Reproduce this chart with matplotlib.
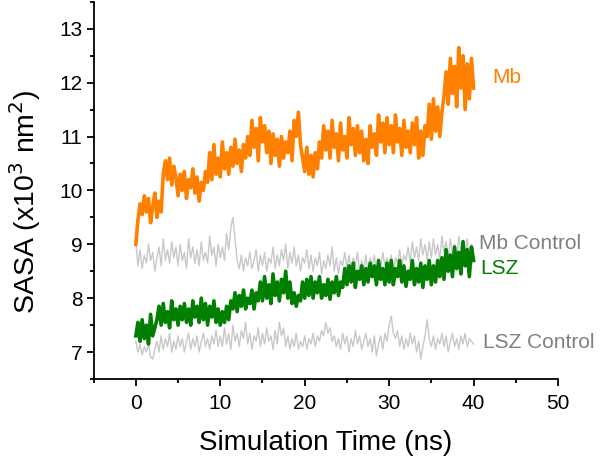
import matplotlib
matplotlib.use("Agg")
import matplotlib.pyplot as plt
import numpy as np
from matplotlib.ticker import MultipleLocator

plt.rcParams['font.family'] = ['Liberation Sans', 'DejaVu Sans']

# время, нс (шаг 0.25)
time_ns = np.linspace(0, 40, 161)

mb = [
    9.0, 9.45, 9.75, 9.55, 9.9, 9.6, 9.85, 9.4, 9.7, 9.95, 9.5, 9.8, 9.6, 10.3, 10.55, 10.2, 10.6, 10.1, 10.45, 10.25,
    9.9, 10.3, 10.0, 10.35, 9.85, 10.2, 10.05, 10.4, 9.95, 10.25, 9.8, 10.15, 10.0, 10.35, 10.15, 10.7, 10.2, 10.85, 10.3, 10.6,
    10.25, 10.9, 10.4, 10.7, 10.3, 10.8, 10.45, 10.95, 10.5, 10.75, 10.35, 10.85, 10.6, 11.0, 10.65, 11.3, 10.8, 11.15, 10.55, 11.35,
    10.9, 11.2, 10.7, 11.1, 10.5, 11.05, 10.65, 10.95, 10.45, 11.0, 10.6, 10.9, 10.7, 11.1, 10.55, 11.3, 11.0, 11.45, 10.85, 10.6,
    10.35, 10.8, 10.3, 10.65, 10.25, 10.7, 10.4, 10.9, 10.6, 11.2, 10.75, 11.1, 10.6, 11.3, 10.8, 11.05, 10.55, 11.25, 10.75, 11.0,
    10.6, 11.35, 10.85, 11.15, 10.65, 11.2, 10.7, 11.1, 10.55, 10.95, 10.5, 11.2, 10.8, 11.05, 10.65, 11.4, 10.9, 11.25, 10.7, 11.35,
    10.85, 11.2, 10.7, 11.4, 10.9, 11.15, 10.65, 11.3, 10.8, 11.1, 10.7, 11.25, 10.85, 11.35, 10.6, 11.1, 10.65, 11.2, 11.0, 11.6,
    10.95, 11.7, 11.1, 11.55, 11.0, 11.45, 11.75, 12.2, 11.6, 12.45, 11.8, 12.3, 11.55, 12.65, 11.9, 12.5, 11.5, 12.35, 11.7, 12.45,
    11.9,
]

mb_control = [
    9.05, 8.6, 8.9, 8.55, 8.8, 8.65, 9.0, 8.7, 8.85, 8.5, 8.75, 8.95, 8.6, 9.1, 8.7, 8.9, 8.65, 9.05, 8.75, 8.95,
    8.6, 9.0, 8.7, 8.85, 8.55, 9.1, 8.75, 8.95, 8.65, 8.9, 8.6, 9.05, 8.7, 8.85, 8.65, 9.15, 8.8, 8.95, 8.6, 9.0,
    8.75, 8.95, 8.7, 9.2, 8.9, 9.3, 9.5, 9.1, 8.7, 8.55, 8.8, 8.5, 8.75, 8.6, 8.85, 8.55, 8.7, 8.9, 8.5, 8.8,
    8.6, 8.85, 8.5, 8.75, 8.65, 8.95, 8.55, 8.8, 8.6, 8.9, 8.7, 9.0, 8.55, 8.85, 8.65, 8.95, 8.6, 8.8, 8.5, 8.75,
    8.65, 8.9, 8.55, 8.8, 8.5, 8.75, 8.6, 8.85, 8.45, 8.7, 8.55, 8.8, 8.6, 8.95, 8.5, 8.75, 8.45, 8.7, 8.6, 8.85,
    8.55, 8.8, 8.5, 8.75, 8.6, 8.85, 8.5, 8.7, 8.55, 8.8, 8.45, 8.75, 8.6, 8.8, 8.5, 8.7, 8.55, 8.85, 8.6, 8.75,
    8.55, 8.8, 8.5, 8.75, 8.65, 8.9, 8.6, 8.8, 8.7, 8.95, 8.65, 9.05, 8.75, 8.95, 8.7, 9.1, 8.8, 9.0, 8.7, 9.05,
    8.75, 9.1, 8.8, 9.0, 8.7, 9.15, 8.85, 9.05, 8.75, 9.1, 8.8, 9.0, 8.7, 9.15, 8.85, 9.05, 8.8, 9.1, 8.75, 9.0,
    8.9,
]

lsz = [
    7.3, 7.55, 7.2, 7.6, 7.25, 7.5, 7.15, 7.7, 7.3, 7.45, 7.6, 7.85, 7.5, 7.9, 7.55, 7.75, 7.45, 7.95, 7.6, 7.8,
    7.5, 7.85, 7.6, 7.9, 7.55, 7.8, 7.5, 7.95, 7.65, 7.85, 7.55, 8.0, 7.6, 7.9, 7.5, 7.85, 7.65, 7.95, 7.55, 7.8,
    7.5, 7.75, 7.55, 7.85, 7.6, 7.95, 7.8, 8.1, 7.75, 8.05, 7.85, 8.15, 7.8, 8.0, 7.9, 8.15, 7.8, 8.1, 7.95, 8.3,
    7.95, 8.4, 8.0, 8.25, 7.9, 8.45, 8.05, 8.3, 7.95, 8.35, 8.1, 8.5, 8.0, 8.3, 7.9, 8.1, 7.85, 8.05, 7.95, 8.3,
    8.0, 8.35, 8.05, 8.4, 8.0, 8.3, 8.1, 8.4, 8.0, 8.25, 8.05, 8.35, 7.98, 8.3, 8.1, 8.4, 8.05, 8.3, 8.2, 8.55,
    8.25, 8.6, 8.3, 8.65, 8.2, 8.5, 8.35, 8.6, 8.25, 8.55, 8.3, 8.65, 8.4, 8.6, 8.25, 8.7, 8.35, 8.55, 8.25, 8.65,
    8.3, 8.7, 8.25, 8.55, 8.4, 8.7, 8.3, 8.6, 8.22, 8.5, 8.35, 8.7, 8.25, 8.55, 8.3, 8.65, 8.2, 8.6, 8.35, 8.7,
    8.25, 8.6, 8.3, 8.7, 8.4, 8.75, 8.35, 8.9, 8.5, 8.8, 8.4, 8.95, 8.55, 8.85, 8.45, 9.05, 8.6, 8.9, 8.4, 8.95,
    8.7,
]

lsz_control = [
    7.2, 7.0, 7.15, 6.95, 7.1, 7.0, 7.15, 6.9, 6.87, 7.05, 7.2, 7.0, 7.3, 7.05, 7.25, 7.1, 7.35, 7.0, 7.2, 7.05,
    7.3, 7.1, 7.25, 7.0, 7.2, 7.35, 7.05, 7.25, 7.1, 7.3, 7.0, 7.2, 7.35, 7.1, 7.25, 7.05, 7.3, 7.15, 7.4, 7.1,
    7.3, 7.1, 7.45, 7.15, 7.35, 7.05, 7.5, 7.2, 7.35, 7.1, 7.4, 7.25, 7.55, 7.15, 7.35, 7.05, 7.3, 7.2, 7.45, 7.1,
    7.35, 7.15, 7.45, 7.2, 7.3, 7.05, 7.4, 7.15, 7.55, 7.3, 7.45, 7.1, 7.3, 7.05, 7.25, 7.1, 7.35, 7.05, 7.2, 7.1,
    7.3, 7.05, 7.25, 7.15, 7.35, 7.1, 7.3, 7.2, 7.4, 7.3, 7.55, 7.35, 7.45, 7.2, 7.3, 7.1, 7.25, 7.05, 7.35, 7.15,
    7.3, 7.0, 7.25, 7.1, 7.4, 7.15, 7.3, 7.05, 7.2, 7.35, 7.1, 7.25, 7.0, 7.3, 6.93, 7.15, 7.3, 7.05, 7.35, 7.2,
    7.5, 7.67, 7.35, 7.25, 7.4, 7.1, 7.3, 7.05, 7.25, 7.1, 7.35, 7.15, 7.3, 7.0, 7.2, 6.87, 7.1, 7.3, 7.6, 7.25,
    7.1, 7.3, 7.05, 7.25, 7.15, 7.35, 7.1, 7.3, 7.0, 7.2, 7.35, 7.1, 7.25, 7.05, 7.3, 7.15, 7.35, 7.1, 7.25, 7.2,
    7.15,
]

orange = "#ff8000"
green = "#007f00"
light_gray = "#c8c8c8"
label_gray = "#808080"

fig = plt.figure(figsize=(6, 4.58), dpi=100)
ax = fig.add_axes([0.156, 0.1725, 0.774, 0.8235])

ax.plot(time_ns, mb_control, color=light_gray, lw=1.0)
ax.plot(time_ns, lsz_control, color=light_gray, lw=1.0)
ax.plot(time_ns, lsz, color=green, lw=2.6)
ax.plot(time_ns, mb, color=orange, lw=2.6)

# подписи кривых
ax.text(42.2, 12.1, "Mb", color=orange, fontsize=15, va="center")
ax.text(40.7, 9.02, "Mb Control", color=label_gray, fontsize=15, va="center")
ax.text(40.8, 8.56, "LSZ", color=green, fontsize=15, va="center")
ax.text(41.1, 7.18, "LSZ Control", color=label_gray, fontsize=15, va="center")

ax.set_xlim(-5, 50)
ax.set_ylim(6.5, 13.5)
ax.xaxis.set_major_locator(MultipleLocator(10))
ax.xaxis.set_minor_locator(MultipleLocator(5))
ax.yaxis.set_minor_locator(MultipleLocator(0.5))
ax.set_yticks(np.arange(7, 14, 1))

ax.spines["top"].set_visible(False)
ax.spines["right"].set_visible(False)
ax.spines["left"].set_linewidth(1.3)
ax.spines["bottom"].set_linewidth(1.3)
ax.tick_params(which="major", direction="out", length=5, width=1.3, labelsize=15)
ax.tick_params(which="minor", direction="out", length=3, width=1.3)
ax.tick_params(axis="x", pad=6)
ax.tick_params(axis="y", pad=3)

ax.set_xlabel("Simulation Time (ns)", fontsize=20, labelpad=12)
ax.set_ylabel("SASA (x10$^3$ nm$^2$)", fontsize=20.5)
ax.yaxis.set_label_coords(-0.11, 0.47)

fig.savefig("out.png", dpi=100)
